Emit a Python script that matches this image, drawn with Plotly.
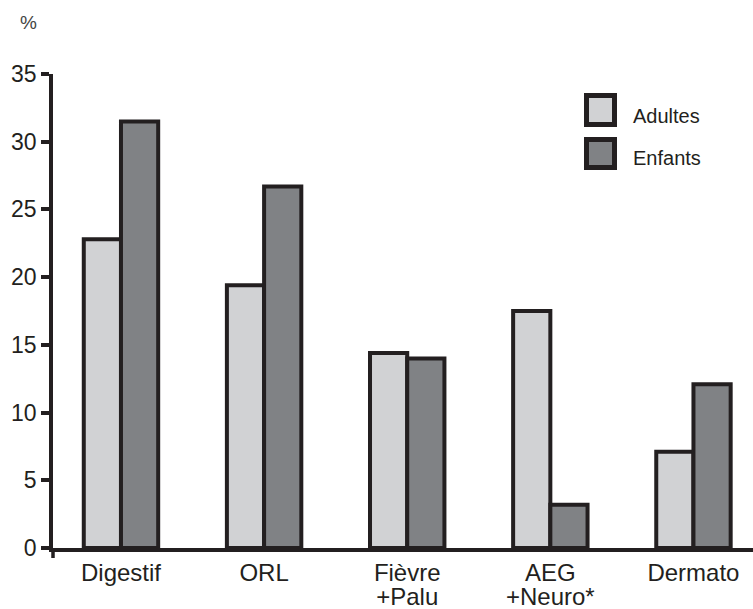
import plotly.graph_objects as go

categories = ["Digestif", "ORL", "Fièvre<br>+Palu", "AEG<br>+Neuro*", "Dermato"]
adultes = [22.8, 19.4, 14.4, 17.5, 7.1]
enfants = [31.5, 26.7, 14.0, 3.2, 12.1]
y_ticks = [0, 5, 10, 15, 20, 25, 30, 35]

W, H = 753, 609
L, R, T, B = 53, 0, 74, 61
PW, PH = W - L - R, H - T - B

def px(x):
    return (x - L) / PW

def py(y):
    return (H - B - y) / PH

INK = "#231f20"
FONT = "Liberation Sans, Arial, sans-serif"

def big(label):
    return "<br>".join('<span style="font-size:24px">%s</span>' % part
                       for part in label.split("<br>"))

fig = go.Figure()
fig.add_trace(go.Bar(x=categories, y=adultes, name="Adultes",
                     marker=dict(color="#d1d2d4", line=dict(color=INK, width=4))))
fig.add_trace(go.Bar(x=categories, y=enfants, name="Enfants",
                     marker=dict(color="#808285", line=dict(color=INK, width=4))))

fig.update_layout(
    width=W, height=H,
    margin=dict(l=L, r=R, t=T, b=B, pad=0),
    paper_bgcolor="white", plot_bgcolor="white",
    barmode="group", bargap=0.48, bargroupgap=0,
    showlegend=False,
    font=dict(family=FONT, color=INK, size=22),
)
fig.update_xaxes(
    range=[-0.475, 4.416], showgrid=False, zeroline=False,
    showline=True, linecolor=INK, linewidth=3.5,
    tickmode="array", tickvals=categories, ticktext=[big(c) for c in categories],
    ticks="outside", ticklen=6, tickcolor="rgba(0,0,0,0)",
    tickfont=dict(size=19, family=FONT, color=INK),
)
fig.update_yaxes(
    range=[0, 35], tickvals=y_ticks, showgrid=False, zeroline=False,
    showline=True, linecolor=INK, linewidth=3.5,
    ticks="outside", ticklen=8, tickwidth=3.5, tickcolor=INK,
    tickfont=dict(size=23, family=FONT, color=INK),
)

# y-axis extension below the zero line
fig.add_shape(type="line", xref="paper", yref="paper",
              x0=0, x1=0, y0=0, y1=py(558), line=dict(color=INK, width=3.5))

# "%" label
fig.add_annotation(text="%", xref="paper", yref="paper", x=px(28), y=py(22),
                   showarrow=False, font=dict(size=19, family=FONT, color="#444"),
                   xanchor="center", yanchor="middle")

# manual legend
legend = [("Adultes", "#d1d2d4", 93, 127, 116), ("Enfants", "#808285", 137, 170, 158)]
for name, col, y0, y1, yc in legend:
    fig.add_shape(type="rect", xref="paper", yref="paper",
                  x0=px(586.5), x1=px(614.5), y0=py(y1 - 2.5), y1=py(y0 + 2.5),
                  fillcolor=col, line=dict(color=INK, width=5))
    fig.add_annotation(text=name, xref="paper", yref="paper", x=px(631), y=py(yc),
                       showarrow=False, xanchor="left", yanchor="middle",
                       font=dict(size=20, family=FONT, color=INK))

fig.write_html("out.html", config={"displayModeBar": False},
               post_script="document.body.style.margin='0';document.body.style.overflow='hidden';")
